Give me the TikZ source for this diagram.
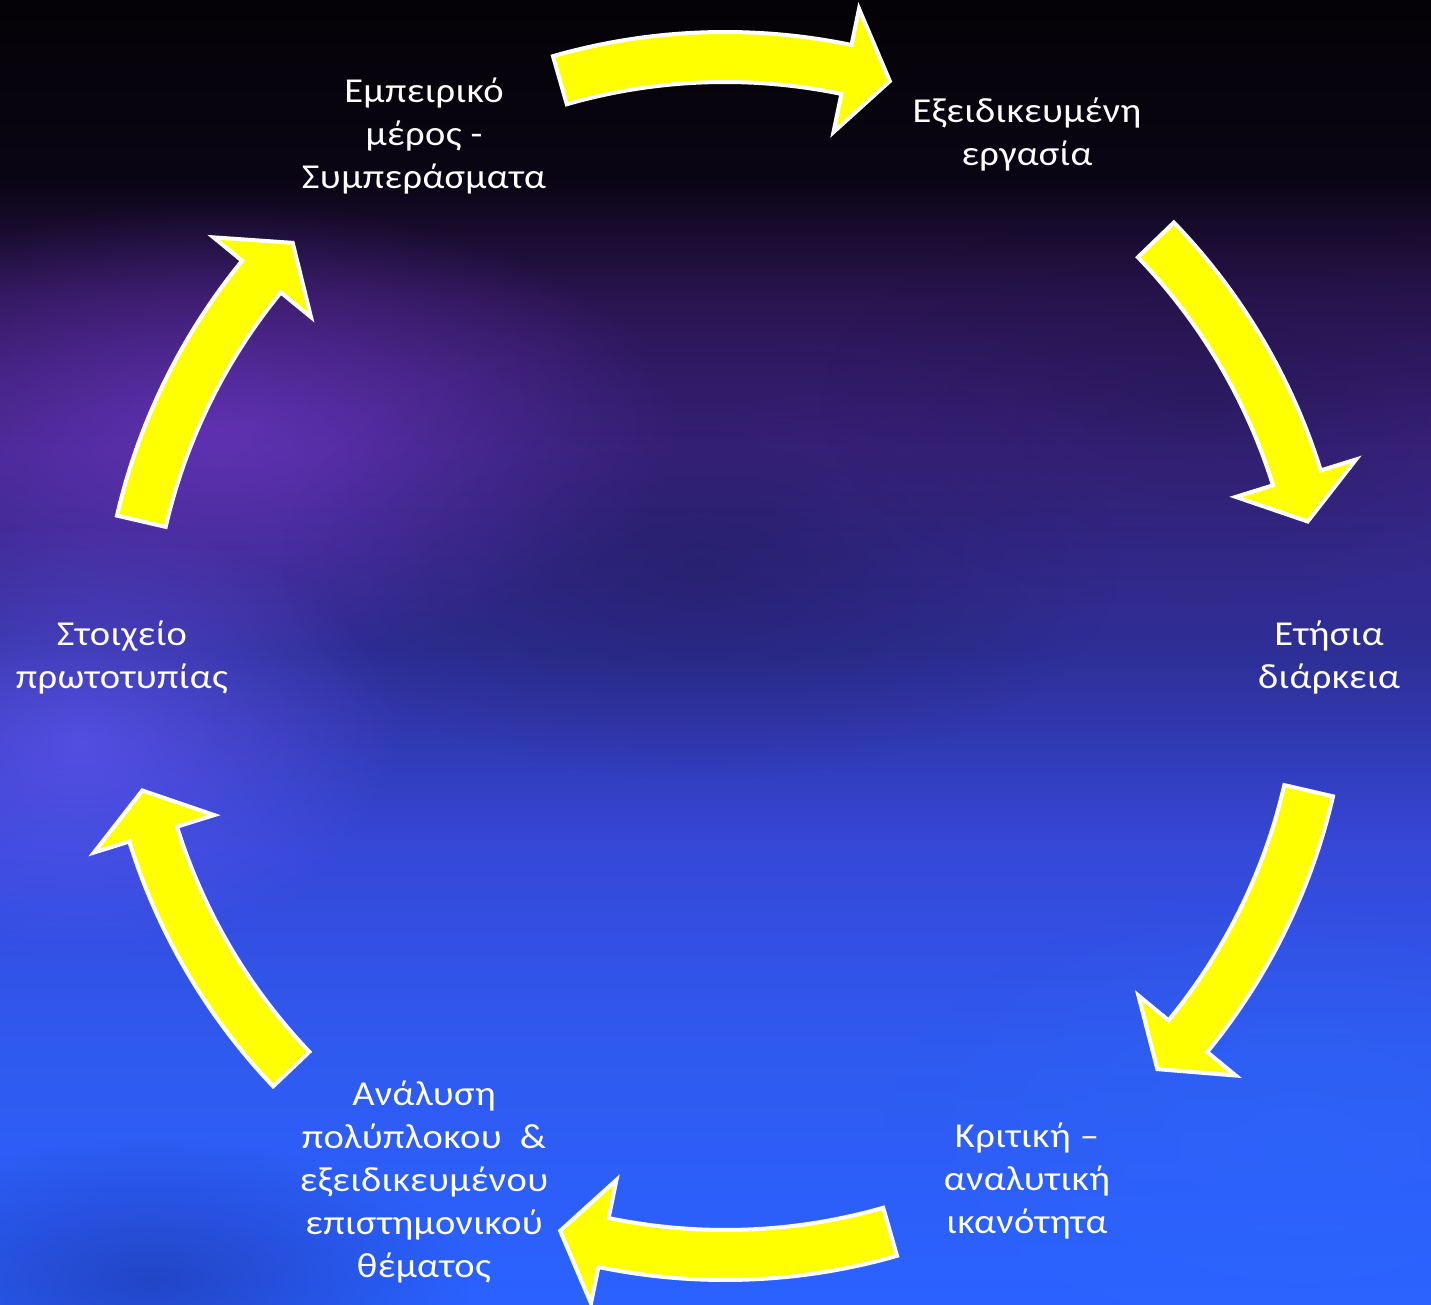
\documentclass[tikz,border=0pt]{standalone}
\usepackage{fontspec}
\setmainfont{Carlito}[FakeStretch=1.1, LetterSpace=1.2]
\usetikzlibrary{fadings}
\definecolor{bgA}{HTML}{2A62FF}
\definecolor{bgB}{HTML}{2F5AF0}
\definecolor{bgC}{HTML}{3548D8}
\definecolor{bgD}{HTML}{2E2E95}
\definecolor{bgE}{HTML}{3A2380}
\definecolor{bgF}{HTML}{2A1450}
\definecolor{bgG}{HTML}{0A0514}
\definecolor{bgH}{HTML}{040206}
\definecolor{glowP}{HTML}{7A3CD6}
\definecolor{glowV}{HTML}{6A5CFF}
\definecolor{darkP}{HTML}{15123F}
\definecolor{darkB}{HTML}{1A2A90}
\definecolor{brightB}{HTML}{2D6BFF}
\definecolor{arrowY}{HTML}{FFFF00}
\pgfdeclareverticalshading{skybg}{100bp}{color(0bp)=(bgA); color(25bp)=(bgA); color(34.74bp)=(bgB); color(42.41bp)=(bgC); color(50.08bp)=(bgD); color(57.75bp)=(bgE); color(63.5bp)=(bgF); color(68.1bp)=(bgG); color(75bp)=(bgH); color(100bp)=(bgH)}
\tikzfading[name=glowfade, inner color=transparent!0, outer color=transparent!100]
\newcommand{\cycarrow}[3]{\draw[cycarr] (#1:624pt) arc[start angle=#1, end angle=#2, radius=624pt] -- (#2:661pt) -- (#3:598pt) -- (#2:535pt) -- (#2:574pt) arc[start angle=#2, end angle=#1, radius=574pt] -- cycle;}
\tikzset{
  cycarr/.style={fill=arrowY, draw=white, line width=4pt, line join=miter},
  lbl/.style={text=white, font=\fontsize{35}{43}\selectfont, align=center, inner sep=0pt, anchor=north},
  glow/.style={path fading=glowfade}
}
\begin{document}
\begin{tikzpicture}
\useasboundingbox (0,0) rectangle (1431pt,1304pt);
\shade[shading=skybg] (0,0) rectangle (1431pt,1304pt);
\begin{scope}
\clip (0,0) rectangle (1431pt,1304pt);
\fill[glowP, glow, fill opacity=0.6] (220pt,874pt) ellipse (460pt and 230pt);
\fill[glowV, glow, fill opacity=0.6] (80pt,564pt) ellipse (320pt and 220pt);
\fill[darkP, glow, fill opacity=0.35] (700pt,744pt) ellipse (420pt and 220pt);
\fill[darkP, glow, fill opacity=0.3] (1200pt,900pt) ellipse (380pt and 200pt);
\fill[darkB, glow, fill opacity=0.5] (150pt,24pt) ellipse (320pt and 140pt);
\fill[brightB, glow, fill opacity=0.4] (1300pt,154pt) ellipse (420pt and 260pt);
\end{scope}
\coordinate (C) at (725pt,648pt);
\begin{scope}[shift={(C)}]
\cycarrow{106}{78.3}{74}
\cycarrow{44}{17.3}{13}
\cycarrow{-13}{-39.4}{-43.7}
\cycarrow{-74}{-101.7}{-106}
\cycarrow{-136.4}{-162.7}{-167}
\cycarrow{167}{140.7}{136.3}
\end{scope}
\node[lbl] (n1) at (424pt,1232pt) {\strut Εμπειρικό\\\strut μέρος -\\\strut Συμπεράσματα};
\node[lbl] (n2) at (1027pt,1212pt) {\strut Εξειδικευμένη\\\strut εργασία};
\node[lbl] (n3) at (1329pt,689pt) {\strut Ετήσια\\\strut διάρκεια};
\node[lbl] (n4) at (1027pt,187pt) {\strut Κριτική –\\\strut αναλυτική\\\strut ικανότητα};
\node[lbl] (n5) at (424pt,229pt) {\strut Ανάλυση\\\strut πολύπλοκου\ \ \&\\\strut εξειδικευμένου\\\strut επιστημονικού\\\strut θέματος};
\node[lbl] (n6) at (122pt,689pt) {\strut Στοιχείο\\\strut πρωτοτυπίας};
\end{tikzpicture}
\end{document}
